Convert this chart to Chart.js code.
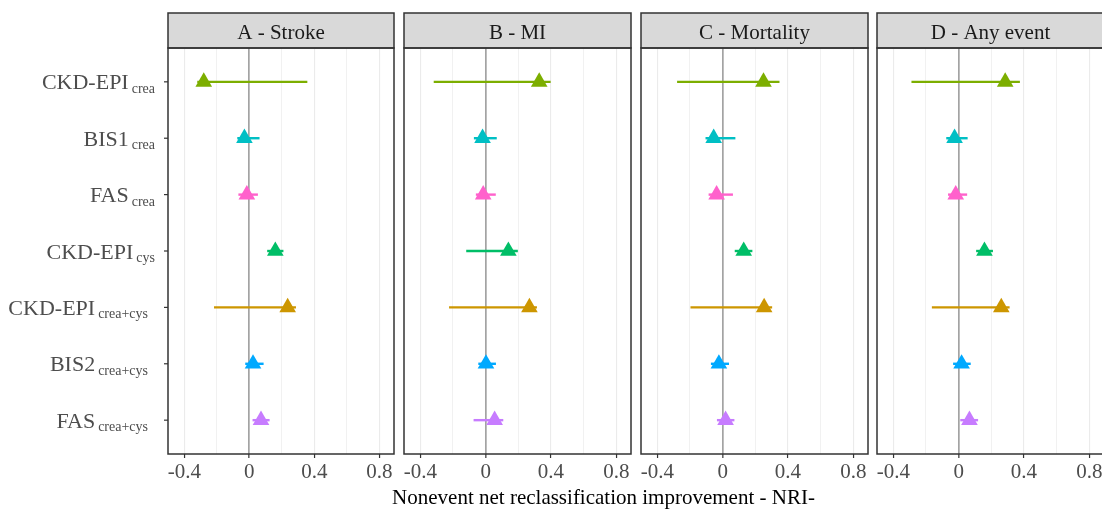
<!DOCTYPE html>
<html>
<head>
<meta charset="utf-8">
<script src="https://cdn.jsdelivr.net/npm/chart.js@4.4.0/dist/chart.umd.min.js"></script>
<style>
  html, body { margin: 0; padding: 0; background: #fff; overflow: hidden; }
  #wrap { position: relative; width: 1102px; height: 509px; overflow: hidden; }
  .panel { position: absolute; top: 0; height: 509px; }
  #xtitle { position: absolute; left: 0; width: 1207px; top: 487px; text-align: center;
            font: 21px 'Liberation Serif', serif; line-height: 21px; color: #000; }
</style>
</head>
<body>
<div id="wrap">
  <div class="panel" style="left:0;width:396px"><canvas id="pA"></canvas></div>
  <div class="panel" style="left:402px;width:231px"><canvas id="pB"></canvas></div>
  <div class="panel" style="left:639px;width:231px"><canvas id="pC"></canvas></div>
  <div class="panel" style="left:875px;width:231px"><canvas id="pD"></canvas></div>
  <div id="xtitle">Nonevent net reclassification improvement - NRI-</div>
</div>
<script>
// facets and categories
const panelTitles = ['A - Stroke', 'B - MI', 'C - Mortality', 'D - Any event'];
const methods = ['CKD-EPI', 'BIS1', 'FAS', 'CKD-EPI', 'CKD-EPI', 'BIS2', 'FAS'];
const subs = ['crea', 'crea', 'crea', 'cys', 'crea+cys', 'crea+cys', 'crea+cys'];
const colors = ['#7CAE00', '#00BFC4', '#FF61CC', '#00BE67', '#CD9600', '#00A9FF', '#C77CFF'];
const xTicks = [-0.4, -0.2, 0, 0.2, 0.4, 0.6, 0.8];
const majorTicks = [-0.4, 0, 0.4, 0.8];

// estimates with lower / upper limits
const strokeEst = [-0.28, -0.03, -0.015, 0.16, 0.236, 0.023, 0.072];
const strokeLo  = [-0.32, -0.074, -0.067, 0.11, -0.217, -0.025, 0.02];
const strokeHi  = [0.357, 0.063, 0.053, 0.21, 0.287, 0.088, 0.125];

const miEst = [0.328, -0.019, -0.015, 0.139, 0.268, 0.002, 0.055];
const miLo  = [-0.318, -0.072, -0.06, -0.119, -0.224, -0.045, -0.074];
const miHi  = [0.398, 0.068, 0.062, 0.197, 0.314, 0.063, 0.108];

const mortEst = [0.25, -0.055, -0.037, 0.129, 0.254, -0.023, 0.018];
const mortLo  = [-0.279, -0.105, -0.086, 0.074, -0.197, -0.072, -0.035];
const mortHi  = [0.348, 0.078, 0.063, 0.182, 0.303, 0.039, 0.072];

const anyEst = [0.285, -0.025, -0.018, 0.158, 0.261, 0.018, 0.066];
const anyLo  = [-0.289, -0.076, -0.065, 0.107, -0.164, -0.034, 0.01];
const anyHi  = [0.375, 0.055, 0.052, 0.21, 0.312, 0.074, 0.119];

const FONT = "'Liberation Serif', 'Times New Roman', serif";

// strip on top + panel border
const framePlugin = {
  id: 'frame',
  afterDraw(chart, args, opts) {
    const ctx = chart.ctx;
    const { left, right, top, bottom } = chart.chartArea;
    ctx.save();
    ctx.fillStyle = '#D9D9D9';
    ctx.fillRect(left, 13, right - left, top - 13);
    ctx.strokeStyle = '#333333';
    ctx.lineWidth = 1.5;
    ctx.strokeRect(left, 13, right - left, top - 13);
    ctx.strokeRect(left, top, right - left, bottom - top);
    ctx.fillStyle = '#1A1A1A';
    ctx.font = '21px ' + FONT;
    ctx.textAlign = 'center';
    ctx.textBaseline = 'alphabetic';
    ctx.fillText(opts.title, (left + right) / 2, 38.5);
    ctx.restore();
  }
};

// y labels with subscripts (first panel only)
const yLabelPlugin = {
  id: 'ylabels',
  afterDraw(chart) {
    const ctx = chart.ctx;
    const y = chart.scales.y;
    const left = chart.chartArea.left;
    ctx.save();
    ctx.textAlign = 'left';
    ctx.textBaseline = 'alphabetic';
    ctx.fillStyle = '#4D4D4D';
    methods.forEach((m, i) => {
      const py = y.getPixelForValue(i + 1);
      const sub = subs[i];
      ctx.font = '14px ' + FONT;
      const subW = ctx.measureText(sub).width;
      ctx.font = '22px ' + FONT;
      const mainW = ctx.measureText(m).width;
      const right = sub.includes('+') ? left - 20 : left - 13;
      ctx.fillText(m, right - subW - 3 - mainW, py + 7.5);
      ctx.font = '14px ' + FONT;
      ctx.fillText(sub, right - subW, py + 11);
      ctx.strokeStyle = '#333333';
      ctx.lineWidth = 1.2;
      ctx.beginPath();
      ctx.moveTo(left - 4, py);
      ctx.lineTo(left, py);
      ctx.stroke();
    });
    ctx.restore();
  }
};

function makePanel(id, title, est, lo, hi, first) {
  const datasets = [{
    data: est.map((v, i) => ({ x: v, y: i + 1 })),
    pointStyle: 'triangle',
    pointRadius: 9.6,
    backgroundColor: colors,
    borderWidth: 0,
    order: 0
  }];
  lo.forEach((v, i) => {
    datasets.push({
      data: [{ x: lo[i], y: i + 1 }, { x: hi[i], y: i + 1 }],
      showLine: true,
      borderColor: colors[i],
      borderWidth: 2.4,
      pointRadius: 0,
      order: 1
    });
  });

  return new Chart(document.getElementById(id), {
    type: 'scatter',
    data: { datasets },
    plugins: first ? [framePlugin, yLabelPlugin] : [framePlugin],
    options: {
      responsive: true,
      maintainAspectRatio: false,
      animation: false,
      events: [],
      layout: {
        autoPadding: false,
        padding: { left: first ? 168 : 2, right: 2, top: 48, bottom: 0 }
      },
      plugins: {
        legend: { display: false },
        tooltip: { enabled: false },
        frame: { title }
      },
      scales: {
        x: {
          type: 'linear',
          min: -0.5,
          max: 0.89,
          afterBuildTicks: (scale) => { scale.ticks = xTicks.map(v => ({ value: v })); },
          afterFit: (scale) => {
            scale.height = 55;
            scale.paddingLeft = 0;
            scale.paddingRight = 0;
          },
          border: { display: false },
          grid: {
            color: (c) => c.tick && c.tick.value === 0 ? '#A3A3A3' : '#EBEBEB',
            lineWidth: (c) => {
              const v = c.tick ? c.tick.value : null;
              if (v === 0) return 1.7;
              return majorTicks.includes(v) ? 1.1 : 0.7;
            },
            tickColor: (c) => c.tick && majorTicks.includes(c.tick.value) ? '#333333' : 'rgba(0,0,0,0)',
            tickWidth: 1.2,
            tickLength: 4
          },
          ticks: {
            autoSkip: false,
            maxRotation: 0,
            padding: 2,
            color: '#4D4D4D',
            font: { family: FONT, size: 21 },
            callback: (v) => majorTicks.includes(v) ? String(v) : ''
          }
        },
        y: {
          type: 'linear',
          min: 0.4,
          max: 7.6,
          reverse: true,
          display: false
        }
      }
    }
  });
}

makePanel('pA', panelTitles[0], strokeEst, strokeLo, strokeHi, true);
makePanel('pB', panelTitles[1], miEst, miLo, miHi, false);
makePanel('pC', panelTitles[2], mortEst, mortLo, mortHi, false);
makePanel('pD', panelTitles[3], anyEst, anyLo, anyHi, false);
</script>
</body>
</html>
